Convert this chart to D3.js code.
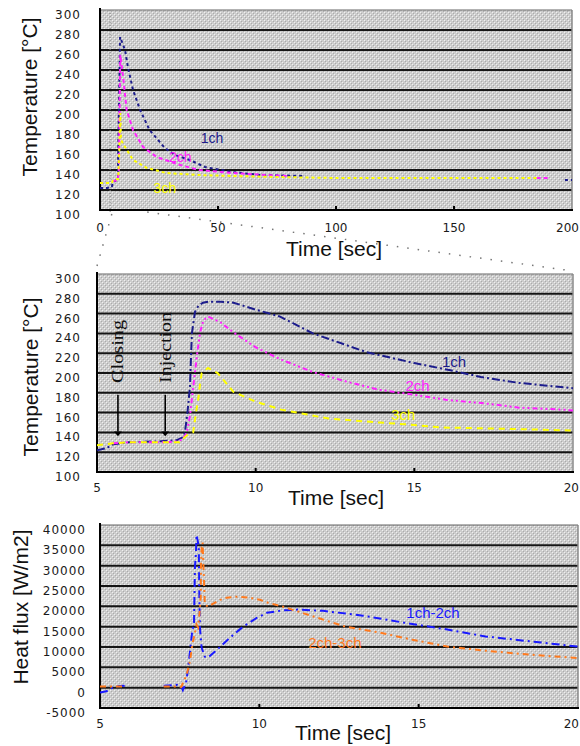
<!DOCTYPE html>
<html><head><meta charset="utf-8">
<script src="https://cdn.jsdelivr.net/npm/d3@7"></script>
<style>body{margin:0;background:#fff}svg{display:block}</style>
</head><body>
<svg id="c" width="580" height="746"></svg>
<script>
// ---------- data ----------
const tempTicks = [100,120,140,160,180,200,220,240,260,280,300];
const fullTimeTicks = [0,50,100,150,200];
const zoomTimeTicks = [5,10,15,20];
const fluxTicks = [-5000,0,5000,10000,15000,20000,25000,30000,35000,40000];

const tempNames = ["1ch","2ch","3ch"];
const fluxNames = ["1ch-2ch","2ch-3ch"];

// full run (0-200 s), [time, temperature]
const top1ch = [[0,122],[3,122],[5,123],[5.5,128],[7,130],[7.6,131],[7.65,148],[8.5,273],[9,270],[10.6,260],[11.9,242],[14,220],[17,200],[21,180],[27.5,162],[31.8,155],[38,150],[44.5,143],[56,138],[68,135],[87,134],null,[197,130],[200,130]];
const top2ch = [[5.5,129],[7.5,130],[8,140],[8.3,200],[8.6,255],[9.8,233],[11.3,200],[14,180],[18.3,163],[24,153],[34,145],[42,140],[56,137],[70,135],[80,134],null,[185,132],[190,132]];
const top3ch = [[0,127],[5,127],[5.5,130],[7.7,131],[8.2,160],[8.6,197],[8.9,170],[10.6,163],[14,150],[20,142],[28,137],[42,135],[56,134],[75,133],[100,132],[185,132]];

// zoom (5-20 s), [time, temperature]
const mid1ch = [[5,122],[5.3,124],[5.5,128],[6,130],[7,131],[7.5,132],[7.7,135],[7.77,140],[7.85,160],[7.93,186],[7.95,205],[7.99,240],[8.09,262],[8.2,268],[8.34,271],[8.5,272],[8.9,272],[9.3,271],[10,264],[10.77,257],[11.8,240],[13.5,221],[15,210],[16.1,203],[17.1,196],[18.3,190],[19.9,185],[20,184.5]];
const mid2ch = [[5.5,129],[6,130],[7.2,130],[7.5,131],[7.7,133],[7.83,140],[7.93,157],[8.03,185],[8.15,218],[8.25,241],[8.35,253],[8.5,257],[8.9,251],[9.3,241],[10,226],[10.77,214],[11.8,201],[12.9,191],[13.9,183],[15,178],[16,173],[17.3,169],[18.3,165],[19.7,163],[20,162]];
const mid3ch = [[5,127],[5.5,129],[6,130],[7.6,130],[7.83,137],[8.03,140],[8.12,160],[8.2,176],[8.25,190],[8.3,200],[8.5,205],[8.8,200],[9.3,181],[10,171],[10.8,163],[12.3,154],[13.9,150],[14.8,148],[15.8,145],[17.4,144],[19.9,142],[20,142]];

// heat flux (5-20 s), [time, W/m2]
const flux12 = [[5,-1200],[5.2,-900],[5.4,0],[5.6,400],[5.9,500],null,[7.0,500],[7.42,700],[7.57,0],[7.6,-600],[7.7,1200],[7.76,4400],[7.82,8600],[7.89,13600],[7.95,16000],[7.98,29700],[8.01,33000],[8.03,37600],[8.1,34700],[8.12,20900],[8.14,14300],[8.19,9800],[8.29,7600],[8.39,7400],[8.67,9300],[9.08,12300],[9.49,15000],[9.93,17200],[10.24,18400],[10.74,19000],[11.2,19200],[12,18900],[13.25,17700],[14.6,15900],[15.9,14300],[17.1,12600],[18.6,11300],[20,10100]];
const flux23 = [[5,300],[5.7,300],null,[7.0,300],[7.35,300],[7.55,200],[7.72,3200],[7.82,6400],[7.9,10600],[8.03,15500],[8.08,14800],[8.12,18000],[8.16,22100],[8.17,30200],[8.19,34400],[8.22,35700],[8.29,20400],[8.4,19900],[8.5,20400],[8.77,21600],[8.97,22100],[9.33,22400],[9.7,22100],[10.02,21600],[10.27,20900],[10.75,19900],[11.7,17500],[12.7,15000],[13.8,13500],[14.8,11800],[15.9,10100],[17.1,9100],[18.2,8300],[19.2,7700],[20,7300]];

// label anchor points in data coordinates
const topLabelPos = [[47.5,172],[34,153],[27.5,122]];
const midLabelPos = [[16.25,212],[15.1,187],[14.65,157.6]];
const fluxLabelPos = [[15.45,18400],[12.37,11200]];
const events = ["Closing","Injection"];
const eventTimes = [5.66,7.15];

// ---------- styles ----------
const tempColors = ["#1c1c8c","#ff22ff","#ffff00"];
const fluxColors = ["#1a1aff","#ff7a1e"];
const tempDashTop = ["3,3","4,3","3,3"];
const tempDashMid = ["8,3,2,3","5,3,2,3,2,3","6,5"];
const fluxDash = ["8,4,2,4","6,4,2,4"];
const FONT = "'Liberation Sans', Arial, sans-serif";
const TICKFONT = "'DejaVu Sans', sans-serif";
const W = 580;

const svg = d3.select("#c");
const defs = svg.append("defs");
const pat = defs.append("pattern").attr("id","bg").attr("width",4).attr("height",4).attr("patternUnits","userSpaceOnUse");
pat.append("rect").attr("width",4).attr("height",4).attr("fill","#cdcdcd");
[[0,0],[2,2]].forEach(p=>pat.append("rect").attr("x",p[0]).attr("y",p[1]).attr("width",1).attr("height",1).attr("fill","#f0f0f0"));
[[1,1],[3,3]].forEach(p=>pat.append("rect").attr("x",p[0]).attr("y",p[1]).attr("width",1).attr("height",1).attr("fill","#ababab"));

let clipId = 0;
function panel(o){
  const xs = d3.scaleLinear().domain(o.xDom).range(o.xRange);
  const ys = d3.scaleLinear().domain(o.yDom).range(o.yRange);
  const g = svg.append("g");
  const [x0,x1] = o.xRange, [y0,y1] = [o.yRange[1],o.yRange[0]];
  g.append("rect").attr("x",x0).attr("y",y0).attr("width",x1-x0).attr("height",y1-y0).attr("fill","url(#bg)");
  g.selectAll(".grid").data(o.yTicks.slice(1,-1)).join("line")
    .attr("x1",x0).attr("x2",x1).attr("y1",d=>ys(d)).attr("y2",d=>ys(d))
    .attr("stroke","#151515").attr("stroke-width",2);
  g.append("line").attr("x1",x0).attr("x2",x1).attr("y1",y0).attr("y2",y0).attr("stroke","#666").attr("stroke-width",1.2);
  g.append("line").attr("x1",x1).attr("x2",x1).attr("y1",y0).attr("y2",y1).attr("stroke","#8a8a8a").attr("stroke-width",1.5);
  g.append("line").attr("x1",x0).attr("x2",x0).attr("y1",y0-2).attr("y2",y1+1).attr("stroke","#000").attr("stroke-width",2);
  g.append("line").attr("x1",x0).attr("x2",x1+1).attr("y1",y1).attr("y2",y1).attr("stroke","#000").attr("stroke-width",2);
  g.selectAll(".tk").data(o.xTicks.slice(1,-1)).join("line")
    .attr("x1",d=>xs(d)).attr("x2",d=>xs(d)).attr("y1",y1).attr("y2",y1-4)
    .attr("stroke","#000").attr("stroke-width",2);
  if (o.extra) o.extra(g,xs,ys);
  const cid = "clip"+(clipId++);
  defs.append("clipPath").attr("id",cid).append("rect").attr("x",x0).attr("y",y0).attr("width",x1-x0).attr("height",y1-y0);
  const line = d3.line().defined(d=>d!=null).x(d=>xs(d[0])).y(d=>ys(d[1]));
  const lg = g.append("g").attr("clip-path",`url(#${cid})`);
  o.series.forEach((s,i)=>{
    lg.append("path").attr("d",line(s)).attr("fill","none")
      .attr("stroke",o.colors[i]).attr("stroke-width",2).attr("stroke-dasharray",o.dash[i]);
  });
  o.names.forEach((n,i)=>{
    g.append("text").attr("x",xs(o.labelPos[i][0])).attr("y",ys(o.labelPos[i][1]))
      .attr("text-anchor","middle").attr("dominant-baseline","central")
      .attr("font-family",FONT).attr("font-size",o.labelSize).attr("fill",o.colors[i]).text(n);
  });
  g.selectAll(".yl").data(o.yTicks).join("text")
    .attr("x",o.yLabelX).attr("y",d=>ys(d)+5).attr("text-anchor","end").attr("dominant-baseline","central")
    .attr("font-family",TICKFONT).attr("font-size",12).attr("letter-spacing",1).attr("fill","#1a1a1a").text(d=>d);
  g.selectAll(".xl").data(o.xTicks).join("text")
    .attr("x",d=>xs(d)).attr("y",o.xLabelY).attr("text-anchor","middle").attr("dominant-baseline","central")
    .attr("font-family",TICKFONT).attr("font-size",12).attr("fill","#1a1a1a").text(d=>d)
    .each(function(){
      const w = this.getComputedTextLength();
      const cx = +this.getAttribute("x");
      if (cx + w/2 > W - 1) d3.select(this).attr("text-anchor","end").attr("x", W - 1);
    });
  g.append("text").attr("x",o.xTitle[0]).attr("y",o.xTitle[1]).attr("text-anchor","middle")
    .attr("font-family",FONT).attr("font-size",21).attr("fill","#111").text("Time [sec]");
  g.append("text").attr("transform",`translate(${o.yTitle[0]},${o.yTitle[1]}) rotate(-90)`).attr("text-anchor","middle")
    .attr("font-family",FONT).attr("font-size",21).attr("fill","#111").text(o.yTitleText);
  return {xs,ys};
}

const pTop = panel({
  xDom:[0,200], xRange:[100,572], yDom:[100,300], yRange:[210,10],
  xTicks:fullTimeTicks, yTicks:tempTicks, series:[top1ch,top2ch,top3ch], names:tempNames,
  colors:tempColors, dash:tempDashTop, labelPos:topLabelPos, labelSize:14,
  yLabelX:81, xLabelY:228, xTitle:[334,256], yTitle:[37,97], yTitleText:"Temperature [°C]",
  extra:(g,xs,ys)=>{
    g.append("line").attr("x1",xs(4.3)).attr("x2",xs(4.3)).attr("y1",ys(300)).attr("y2",ys(100)+3)
      .attr("stroke","#888").attr("stroke-width",1).attr("stroke-dasharray","1,2");
  }
});

const pMid = panel({
  xDom:[5,20], xRange:[97,573], yDom:[100,300], yRange:[472,274],
  xTicks:zoomTimeTicks, yTicks:tempTicks, series:[mid1ch,mid2ch,mid3ch], names:tempNames,
  colors:tempColors, dash:tempDashMid, labelPos:midLabelPos, labelSize:15,
  yLabelX:81, xLabelY:488, xTitle:[336,505], yTitle:[38,377], yTitleText:"Temperature [°C]",
  extra:(g,xs,ys)=>{
    eventTimes.forEach((t,i)=>{
      const x = xs(t);
      g.append("line").attr("x1",x).attr("x2",x).attr("y1",ys(178)).attr("y2",ys(141))
        .attr("stroke","#000").attr("stroke-width",1.6);
      g.append("path").attr("d",`M${x-4},${ys(141)}L${x+4},${ys(141)}L${x},${ys(136)}Z`).attr("fill","#000");
      g.append("text").attr("transform",`translate(${x},${ys(190)}) rotate(-90)`)
        .attr("dominant-baseline","central").attr("font-family","'Liberation Serif', serif")
        .attr("font-size",17).attr("fill","#111")
        .attr("textLength", i===0?63:71).attr("lengthAdjust","spacingAndGlyphs").text(events[i]);
    });
  }
});

const pBot = panel({
  xDom:[5,20], xRange:[100,578], yDom:[-5000,40000], yRange:[708,525],
  xTicks:zoomTimeTicks, yTicks:fluxTicks, series:[flux12,flux23], names:fluxNames,
  colors:fluxColors, dash:fluxDash, labelPos:fluxLabelPos, labelSize:15,
  yLabelX:86, xLabelY:724, xTitle:[343,740], yTitle:[28,607], yTitleText:"Heat flux [W/m2]"
});

const conn = svg.append("g").attr("stroke","#777").attr("stroke-width",1.5).attr("stroke-dasharray","1.5,9").attr("fill","none");
conn.append("line").attr("x1",pTop.xs(5)).attr("y1",pTop.ys(100)+4).attr("x2",pMid.xs(5)).attr("y2",pMid.ys(300)-8);
conn.append("line").attr("x1",pTop.xs(20)).attr("y1",pTop.ys(100)+2).attr("x2",pMid.xs(20)).attr("y2",pMid.ys(300)-3);
</script>
</body></html>
